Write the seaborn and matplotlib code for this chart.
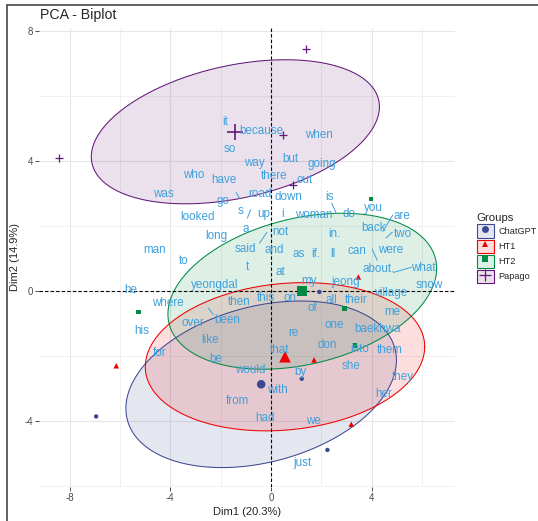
import numpy as np
import pandas as pd
import matplotlib
matplotlib.use("Agg")
import matplotlib.pyplot as plt
import seaborn as sns
from matplotlib.patches import Patch
from matplotlib.lines import Line2D
from matplotlib.legend_handler import HandlerTuple
from matplotlib.ticker import MultipleLocator

# groups and palette (ggsci aaas)
groups = ["ChatGPT", "HT1", "HT2", "Papago"]
group_colors = ["#3B4992", "#EE0000", "#008B45", "#631879"]
group_markers = ["o", "^", "s", "+"]

# individuals (4 per group)
ind_group = ["ChatGPT"] * 4 + ["HT1"] * 4 + ["HT2"] * 4 + ["Papago"] * 4
ind_dim1 = [-6.95, 1.92, 1.22, 2.24,
            -6.15, 3.47, 1.71, 3.19,
            -5.27, 3.97, 2.93, 3.34,
            -8.41, 1.39, 0.46, 0.89]
ind_dim2 = [-3.85, -0.02, -2.69, -4.88,
            -2.29, 0.44, -2.11, -4.09,
            -0.64, 2.84, -0.52, -1.67,
            4.10, 7.45, 4.82, 3.26]

# variables (word labels)
words = ["it", "because", "so", "way", "but", "when", "going", "who", "have", "there",
         "out", "was", "go", "road", "down", "is", "you", "looked", "s", "up",
         "i", "woman", "do", "are", "back", "two", "long", "a", "not", "in.",
         "man", "said", "and", "as", "if.", "ll", "can", "were", "to", "t",
         "at", "about.", "what", "my", "jeong", "he", "yeongdal", "snow", "where", "then",
         "this", "on", "all", "their", "village", "his", "over", "been", "of", "me",
         "like", "one", "baekhwa", "re", "for", "that", "don", "into", "them", "be",
         "would", "by", "she", "they", "with", "from", "her", "had", "we", "just"]
word_dim1 = [-1.82, -0.37, -1.63, -0.68, 0.75, 1.92, 2.01, -3.09, -1.87, 0.14,
             1.35, -4.29, -1.92, -0.46, 0.68, 2.34, 4.06, -2.91, -1.20, -0.31,
             0.46, 1.68, 3.09, 5.22, 4.06, 5.23, -2.19, -0.99, 0.39, 2.50,
             -4.61, -1.01, 0.13, 1.11, 1.79, 2.45, 3.43, 4.77, -3.48, -0.93,
             0.39, 4.26, 6.05, 1.52, 2.97, -5.56, -2.25, 6.28, -4.10, -1.28,
             -0.20, 0.75, 2.41, 3.40, 4.80, -5.14, -3.10, -1.76, 1.66, 4.84,
             -2.42, 2.50, 4.24, 0.89, -4.44, 0.32, 2.22, 3.54, 4.73, -2.19,
             -0.83, 1.15, 3.17, 5.22, 0.25, -1.32, 4.46, -0.24, 1.68, 1.26]
word_dim2 = [5.22, 4.92, 4.38, 3.96, 4.08, 4.82, 3.92, 3.58, 3.43, 3.54,
             3.41, 2.99, 2.79, 3.00, 2.90, 2.89, 2.56, 2.28, 2.46, 2.38,
             2.38, 2.35, 2.38, 2.32, 1.94, 1.76, 1.71, 1.92, 1.83, 1.76,
             1.28, 1.31, 1.28, 1.14, 1.15, 1.15, 1.25, 1.26, 0.92, 0.74,
             0.59, 0.69, 0.71, 0.33, 0.28, 0.05, 0.20, 0.20, -0.36, -0.32,
             -0.21, -0.21, -0.26, -0.26, -0.06, -1.21, -0.96, -0.88, -0.50, -0.65,
             -1.49, -1.03, -1.16, -1.29, -1.90, -1.80, -1.65, -1.78, -1.82, -2.09,
             -2.42, -2.47, -2.31, -2.64, -3.03, -3.36, -3.15, -3.90, -3.98, -5.29]

# repel segments
seg_x0 = [-1.39, -0.81, -0.17, 2.41, 4.84, 4.57, 4.02, 4.86, -2.49]
seg_y0 = [3.04, 2.51, 1.81, 2.71, 2.35, 1.64, 1.30, 0.58, -0.52]
seg_x1 = [-1.23, -0.94, -0.46, 2.58, 4.44, 4.82, 4.22, 5.59, -2.29]
seg_y1 = [2.84, 2.25, 1.48, 2.42, 1.84, 1.82, 0.95, 0.74, -0.72]

ind = pd.DataFrame({"Dim1": ind_dim1, "Dim2": ind_dim2, "Groups": ind_group})
means = ind.groupby("Groups", sort=False)[["Dim1", "Dim2"]].mean().reset_index()

sns.set_style("white")
plt.rcParams["font.family"] = ["Liberation Sans", "DejaVu Sans"]
plt.rcParams["axes.unicode_minus"] = False

W, H = 538, 521
fig = plt.figure(figsize=(W / 100, H / 100), dpi=100)
ax = fig.add_axes([39 / W, 1 - 487 / H, (455 - 39) / W, (487 - 28) / H])

word_color = "#3FA0DC"
fill_alpha = 0.13
chi_r = np.sqrt(5.991)
t = np.linspace(0, 2 * np.pi, 200)

# confidence ellipses around group means
for g, c in zip(groups, group_colors):
    pts = ind.loc[ind["Groups"] == g, ["Dim1", "Dim2"]].to_numpy()
    cen = pts.mean(axis=0)
    cov = np.cov(pts.T) / len(pts)
    L = np.linalg.cholesky(cov)
    xy = cen[:, None] + chi_r * L @ np.vstack([np.cos(t), np.sin(t)])
    ax.fill(xy[0], xy[1], color=c, alpha=fill_alpha, lw=0, zorder=1)
    ax.plot(xy[0], xy[1], color=c, lw=0.75, zorder=2)

# individuals and group means
small = {"o": 10, "^": 16, "s": 11, "+": 32}
big = {"o": 38, "^": 70, "s": 48, "+": 120}
for g, c, m in zip(groups, group_colors, group_markers):
    sub = ind[ind["Groups"] == g]
    msub = means[means["Groups"] == g]
    if m == "+":
        kw = dict(linewidth=0.9)
    else:
        kw = dict(linewidth=0, edgecolor="none")
    sns.scatterplot(data=sub, x="Dim1", y="Dim2", color=c, marker=m, s=small[m],
                    ax=ax, zorder=3, legend=False, **kw)
    kw2 = dict(kw)
    if m == "+":
        kw2["linewidth"] = 1.2
    sns.scatterplot(data=msub, x="Dim1", y="Dim2", color=c, marker=m, s=big[m],
                    ax=ax, zorder=3, legend=False, **kw2)

ax.axhline(0, color="black", ls=(0, (3, 2)), lw=0.8, zorder=2.5)
ax.axvline(0, color="black", ls=(0, (3, 2)), lw=0.8, zorder=2.5)

for x0, y0, x1, y1 in zip(seg_x0, seg_y0, seg_x1, seg_y1):
    ax.plot([x0, x1], [y0, y1], color=word_color, lw=0.7, zorder=4)

for w, x, y in zip(words, word_dim1, word_dim2):
    ax.text(x, y, w, color=word_color, fontsize=8.4, ha="center", va="center", zorder=5)

ax.set_xlim(-9.22, 7.31)
ax.set_ylim(-6.02, 8.1)
ax.xaxis.set_major_locator(MultipleLocator(4))
ax.xaxis.set_minor_locator(MultipleLocator(2))
ax.yaxis.set_major_locator(MultipleLocator(4))
ax.yaxis.set_minor_locator(MultipleLocator(2))
ax.grid(which="major", color="#e6e6e6", lw=0.8, zorder=0)
ax.grid(which="minor", color="#f0f0f0", lw=0.7, zorder=0)
ax.set_axisbelow(True)
for sp in ax.spines.values():
    sp.set_visible(False)
ax.tick_params(which="major", length=3, width=0.7, color="#4d4d4d",
               labelcolor="#4d4d4d", labelsize=7, pad=1.5, bottom=True, left=True)
ax.tick_params(which="minor", length=0)
ax.set_xlabel("Dim1 (20.3%)", fontsize=8, labelpad=3)
ax.set_ylabel("Dim2 (14.9%)", fontsize=8, labelpad=3)

fig.text(40 / W, 1 - 15 / H, "PCA - Biplot", fontsize=10.2, ha="left", va="center")

# legend
handles = []
for c, m in zip(group_colors, group_markers):
    p = Patch(facecolor=matplotlib.colors.to_rgba(c, fill_alpha), edgecolor=c, lw=0.8)
    if m == "+":
        mk = Line2D([], [], marker=m, color=c, ls="none", markersize=8, markeredgewidth=0.9)
    else:
        mk = Line2D([], [], marker=m, color=c, ls="none", markersize=5, markeredgewidth=0)
    handles.append((p, mk))
fig.legend(handles, groups, title="Groups", loc="upper left",
           bbox_to_anchor=(472 / W, 1 - 208 / H), frameon=False, fontsize=6.6,
           title_fontsize=8.2, handlelength=1.85, handleheight=1.85,
           labelspacing=0.2, handletextpad=0.5, borderpad=0, alignment="left",
           handler_map={tuple: HandlerTuple(ndivide=1, pad=0)})

# screenshot frame
fig.add_artist(Line2D([7 / W, 7 / W], [0, 1 - 5 / H], color="#555555", lw=1.3))
fig.add_artist(Line2D([7 / W, 1], [1 - 5 / H, 1 - 5 / H], color="#555555", lw=1.3))

fig.savefig("out.png", dpi=100)
